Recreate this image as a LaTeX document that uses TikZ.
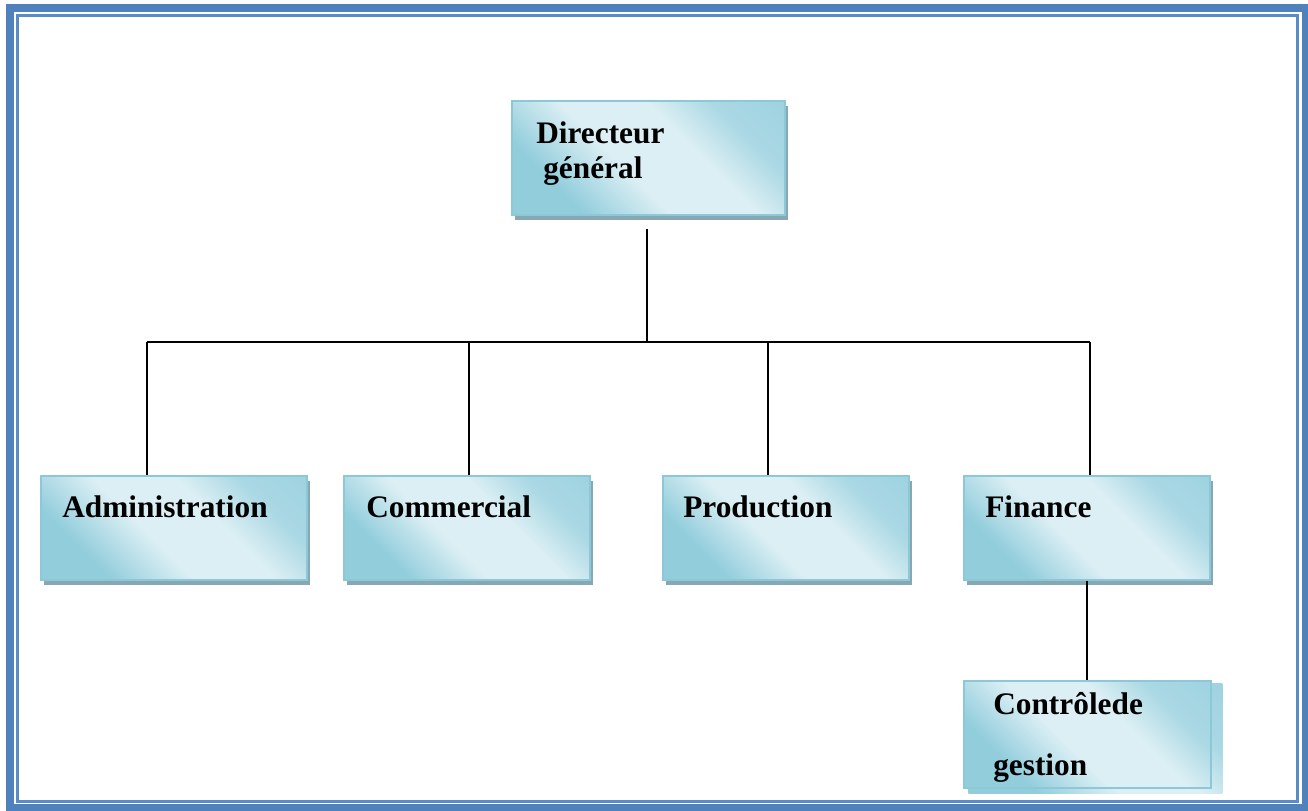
\documentclass[tikz,border=0pt]{standalone}
\usepackage{fontspec}
\setmainfont{Liberation Serif}
\usetikzlibrary{shadows}
\definecolor{boxdark}{RGB}{146,205,220}
\definecolor{boxmid}{RGB}{170,216,228}
\definecolor{boxlight}{RGB}{220,239,244}
\definecolor{boxline}{RGB}{140,200,216}
\definecolor{shadowc}{RGB}{135,168,178}
\definecolor{framec}{RGB}{79,129,189}
\definecolor{framein}{RGB}{88,140,200}
\pgfdeclareverticalshading{orgshade}{100bp}{color(0bp)=(boxdark); color(28bp)=(boxdark); color(44bp)=(boxlight); color(60bp)=(boxlight); color(72bp)=(boxmid); color(100bp)=(boxdark)}
\tikzset{
  orgfill/.style={shading=orgshade, shading angle=-45},
  orgbox/.style={draw=boxline, line width=1.2pt, rectangle, anchor=north west, inner sep=0pt,
    orgfill,
    drop shadow={shadow xshift=2.25pt, shadow yshift=-3.75pt, fill=shadowc, opacity=1}},
  backbox/.style={rectangle, anchor=north west, inner sep=0pt, orgfill},
  lbl/.style={anchor=base west, inner sep=0pt, font=\fontsize{23.5}{28}\selectfont\bfseries},
  conn/.style={draw=black, line width=1.5pt},
}
\begin{document}
\begin{tikzpicture}[x=0.75pt, y=-0.75pt]
\useasboundingbox (0,0) rectangle (1308,810);
% page frame
\draw[framec, line width=6pt] (10,7.5) rectangle (1306,808);
\draw[framein, line width=2.25pt] (17.5,15) rectangle (1297.5,801.5);
% boxes
\node[orgbox, minimum width=204.75pt, minimum height=85.5pt] (dg) at (511,100) {};
\node[orgbox, minimum width=199.5pt, minimum height=78pt] (admin) at (40,475) {};
\node[orgbox, minimum width=184.5pt, minimum height=78pt] (com) at (343,475) {};
\node[orgbox, minimum width=184.5pt, minimum height=78pt] (prod) at (662,475) {};
\node[orgbox, minimum width=184.5pt, minimum height=78pt] (fin) at (963,475) {};
\node[backbox, minimum width=190.5pt, minimum height=82.5pt] (cgback) at (968,683) {};
\node[draw=boxline, line width=1.2pt, rectangle, anchor=north west, inner sep=0pt, orgfill,
    minimum width=185.25pt, minimum height=80.25pt] (cg) at (963,680) {};
% labels
\node[lbl] (dgt1) at (536,143) {Directeur};
\node[lbl] (dgt2) at (543,178) {général};
\node[lbl] (admint) at (62,517) {Administration};
\node[lbl] (comt) at (366,517) {Commercial};
\node[lbl] (prodt) at (683,517) {Production};
\node[lbl] (fint) at (985,517) {Finance};
\node[lbl] (cgt1) at (993,714) {Contrôlede};
\node[lbl] (cgt2) at (993,775) {gestion};
% connectors
\coordinate (bc) at (647,342);
\coordinate (b1) at (147,342);
\coordinate (b2) at (469,342);
\coordinate (b3) at (768,342);
\coordinate (b4) at (1090,342);
\coordinate (dgb) at ([yshift=-10pt]dg.south);
\draw[conn] (bc |- dgb) -- (bc);
\draw[conn] (b1) -- (b4);
\draw[conn] (b1) -- (b1 |- admin.north);
\draw[conn] (b2) -- (b2 |- com.north);
\draw[conn] (b3) -- (b3 |- prod.north);
\draw[conn] (b4) -- (b4 |- fin.north);
\draw[conn] (fin.south) -- (fin.south |- cg.north);
\end{tikzpicture}
\end{document}
